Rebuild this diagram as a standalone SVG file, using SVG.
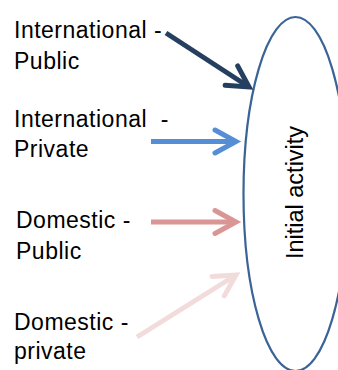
<svg xmlns="http://www.w3.org/2000/svg" width="338" height="370" viewBox="0 0 338 370">
  <style>
    .lbl { font-family: "Liberation Sans", Arial, sans-serif; font-size: 23px; letter-spacing: 0.5px; fill: #000; }
    .act { font-family: "Liberation Sans", Arial, sans-serif; font-size: 23.5px; fill: #000; }
    .conn { fill: none; stroke-width: 5; stroke-linecap: butt; }
  </style>
  <defs>
    <marker id="mNavy" markerUnits="userSpaceOnUse" viewBox="-26 -16 30 32" refX="0" refY="0" markerWidth="30" markerHeight="32" orient="auto" overflow="visible">
      <path d="M -21 -11.5 L 0 0 L -21 11.5" fill="none" stroke="#243F60" stroke-width="5" stroke-linecap="round" stroke-linejoin="miter"/>
    </marker>
    <marker id="mBlue" markerUnits="userSpaceOnUse" viewBox="-26 -16 30 32" refX="0" refY="0" markerWidth="30" markerHeight="32" orient="auto" overflow="visible">
      <path d="M -21 -11.5 L 0 0 L -21 11.5" fill="none" stroke="#558ED5" stroke-width="5" stroke-linecap="round" stroke-linejoin="miter"/>
    </marker>
    <marker id="mPink" markerUnits="userSpaceOnUse" viewBox="-26 -16 30 32" refX="0" refY="0" markerWidth="30" markerHeight="32" orient="auto" overflow="visible">
      <path d="M -21 -11.5 L 0 0 L -21 11.5" fill="none" stroke="#D99694" stroke-width="5" stroke-linecap="round" stroke-linejoin="miter"/>
    </marker>
    <marker id="mLight" markerUnits="userSpaceOnUse" viewBox="-26 -16 30 32" refX="0" refY="0" markerWidth="30" markerHeight="32" orient="auto" overflow="visible">
      <path d="M -21 -11.5 L 0 0 L -21 11.5" fill="none" stroke="#F2DCDB" stroke-width="5" stroke-linecap="round" stroke-linejoin="miter"/>
    </marker>
  </defs>

  <g id="initial-activity">
    <ellipse cx="295.5" cy="194" rx="52" ry="177" fill="none" stroke="#3B6496" stroke-width="2.2"/>
    <text class="act" transform="translate(302.5 192.5) rotate(-90)" text-anchor="middle">Initial activity</text>
  </g>

  <g id="international-public">
    <text class="lbl" x="14" y="38">International -</text>
    <text class="lbl" x="14" y="69">Public</text>
  </g>
  <g id="international-private">
    <text class="lbl" x="14" y="127" xml:space="preserve">International  -</text>
    <text class="lbl" x="14" y="157">Private</text>
  </g>
  <g id="domestic-public">
    <text class="lbl" x="16" y="228">Domestic -</text>
    <text class="lbl" x="16" y="259">Public</text>
  </g>
  <g id="domestic-private">
    <text class="lbl" x="14" y="330">Domestic -</text>
    <text class="lbl" x="14" y="359">private</text>
  </g>

  <g id="connectors">
    <line class="conn" x1="166" y1="33" x2="249" y2="87" stroke="#243F60" stroke-linecap="round" marker-end="url(#mNavy)"/>
    <line class="conn" x1="151" y1="141.5" x2="236" y2="141.5" stroke="#558ED5" marker-end="url(#mBlue)"/>
    <line class="conn" x1="151" y1="222" x2="236" y2="222" stroke="#D99694" marker-end="url(#mPink)"/>
    <line class="conn" x1="137" y1="337" x2="236" y2="275" stroke="#F2DCDB" stroke-linecap="round" marker-end="url(#mLight)"/>
  </g>
</svg>
